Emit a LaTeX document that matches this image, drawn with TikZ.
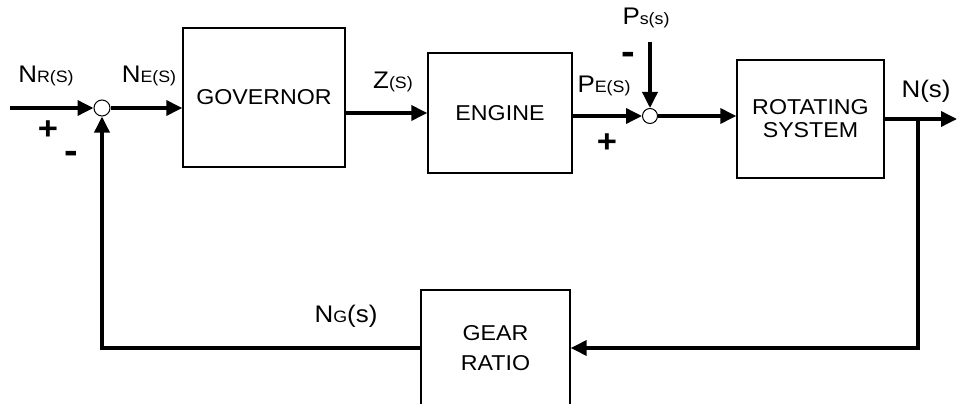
\documentclass[tikz,border=0pt]{standalone}
\usepackage{fontspec}
\setmainfont[FakeStretch=1.08]{Liberation Sans}
\usetikzlibrary{arrows.meta,calc}
\newcommand{\bigpart}[1]{{\fontsize{24}{26}\selectfont #1}}
\newcommand{\smallpart}[1]{{\fontsize{16.5}{18}\selectfont #1}}
\begin{document}
\begin{tikzpicture}[x=1pt,y=-1pt,
  blk/.style={draw,line width=1.4pt,rectangle,align=center,font=\fontsize{21.5}{23}\selectfont,inner sep=0pt},
  sumc/.style={draw,circle,line width=1pt,minimum size=16pt,inner sep=0pt},
  arr/.style={line width=3.5pt,-{Triangle[length=16pt,width=15pt]}},
  wire/.style={line width=3.5pt},
  lbl/.style={inner sep=0pt,anchor=center},
  sign/.style={inner sep=0pt,anchor=center,font=\bfseries\fontsize{32}{32}\selectfont}]
\clip (0,0) rectangle (959,404);
% blocks
\node[sumc] (s1) at (102,108) {};
\node[blk,minimum width=162pt,minimum height=139pt] (gov) at (264,97.5) {GOVERNOR};
\node[blk,minimum width=144pt,minimum height=120pt] (eng) at (500,113) {ENGINE};
\node[sumc,minimum size=15pt] (s2) at (650,116) {};
\node[blk,minimum width=147pt,minimum height=118pt] (rot) at (810.5,119) {ROTATING\\SYSTEM};
\node[blk,minimum width=149pt,minimum height=116pt] (gear) at (495.5,348) {GEAR\\[7pt]RATIO};
% free ends
\coordinate (in) at (10,108);
\coordinate (ps) at (650,42);
\coordinate (out) at (957,119);
\coordinate (br) at (918,119);
% connectors
\draw[arr] (in) -- (s1.west);
\draw[arr] (s1.east) -- (s1 -| gov.west);
\draw[arr] (gov.east |- eng) -- (eng.west);
\draw[arr] (eng.east |- s2) -- (s2.west);
\draw[arr] (ps) -- (s2.north);
\draw[arr] (s2.east) -- (s2 -| rot.west);
\draw[arr] (rot.east |- out) -- (out);
\draw[arr] (br) |- (gear.east);
\draw[arr] (gear.west) -| (s1.south);
% labels
\node[lbl] (lnr) at (46,76) {\bigpart{N}\smallpart{R(S)}};
\node[lbl] (lne) at (149,76) {\bigpart{N}\smallpart{E(S)}};
\node[sign] (p1) at (48,130) {+};
\node[sign,font=\bfseries\fontsize{38}{38}\selectfont] (m1) at (71,157) {-};
\node[lbl] (lz) at (393,82) {\bigpart{Z}\smallpart{(S)}};
\node[lbl] (lpe) at (604,86) {\bigpart{P}\smallpart{E(S)}};
\node[sign] (p2) at (607,143) {+};
\node[sign,font=\bfseries\fontsize{38}{38}\selectfont] (m2) at (628,58) {-};
\node[lbl] (lps) at (646,18) {\bigpart{P}\smallpart{s(s)}};
\node[lbl] (ln) at (926,91) {\bigpart{N(s)}};
\node[lbl] (lng) at (346,316) {\bigpart{N}\smallpart{G}\bigpart{(s)}};
\end{tikzpicture}
\end{document}
